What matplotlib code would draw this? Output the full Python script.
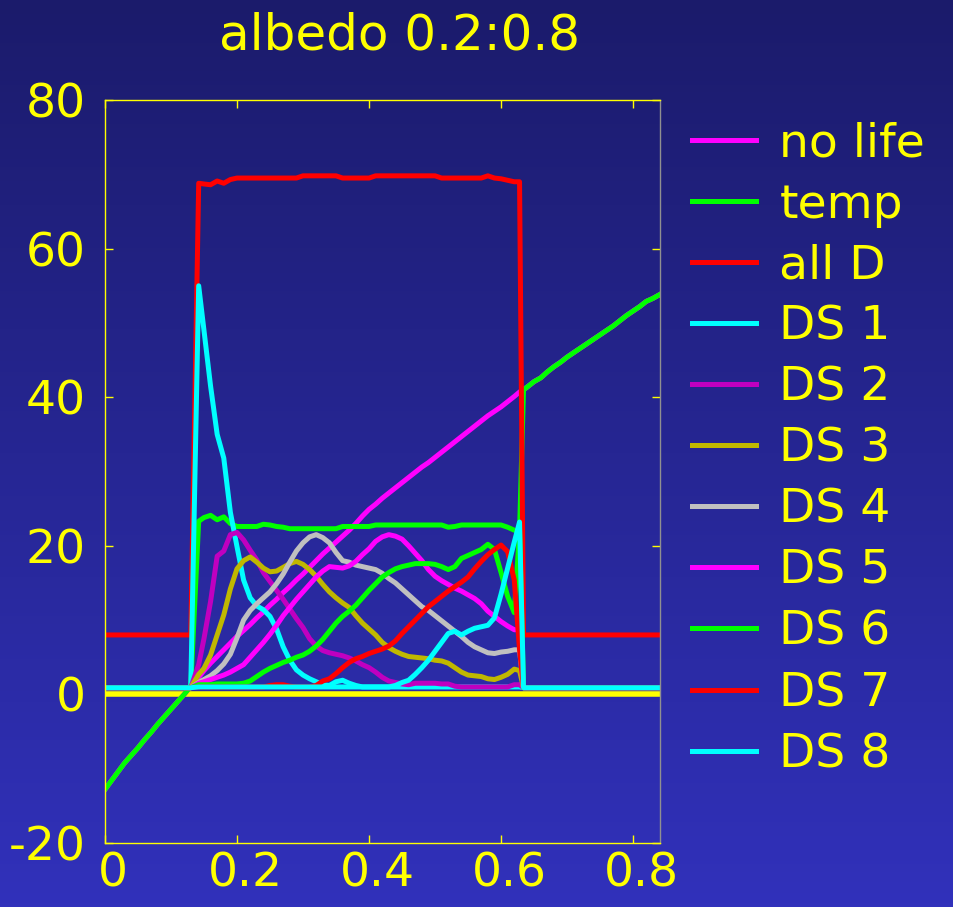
import matplotlib
matplotlib.use("Agg")
import matplotlib.pyplot as plt
import numpy as np
from matplotlib.colors import LinearSegmentedColormap
from matplotlib.transforms import ScaledTranslation

plt.rcParams['font.family'] = ['DejaVu Sans']

# albedo grid: dead zone left, life zone, dead zone right
albedo_left = np.round(np.arange(0.0, 0.135, 0.01), 3)
albedo_life = np.r_[0.142, np.round(np.arange(0.15, 0.625, 0.01), 3), 0.628]
albedo_right = np.r_[0.634, np.round(np.arange(0.64, 0.845, 0.01), 3)]
albedo = np.r_[albedo_left, albedo_life, albedo_right]

temp_left = [-12.8, -11.6, -10.4, -9.2, -8.2, -7.2, -6.1, -5.1, -4.0, -3.0,
             -2.0, -1.0, 0.0, 1.1]
temp_right = [41.0, 41.4, 42.1, 42.6, 43.4, 44.1, 44.7, 45.4, 46.0, 46.6, 47.2,
              47.8, 48.4, 49.0, 49.6, 50.3, 51.0, 51.6, 52.2, 52.9, 53.3, 53.8]

no_life_mid = [2.3, 3.2, 4.2, 5.1, 6.0, 6.9, 7.8, 8.6, 9.4, 10.3,
               11.1, 12.0, 12.8, 13.7, 14.5, 15.4, 16.2, 17.1, 18.0, 18.9,
               19.7, 20.5, 21.3, 22.1, 23.0, 24.0, 24.9, 25.6, 26.4, 27.1,
               27.8, 28.5, 29.2, 29.9, 30.6, 31.2, 31.9, 32.6, 33.3, 34.0,
               34.7, 35.4, 36.1, 36.8, 37.5, 38.1, 38.7, 39.4, 40.1, 40.7]
temp_mid = [23.3, 23.8, 24.1, 23.5, 23.9, 23.0, 22.6, 22.6, 22.6, 22.6,
            22.9, 22.8, 22.6, 22.5, 22.3, 22.3, 22.3, 22.3, 22.3, 22.3,
            22.3, 22.3, 22.6, 22.6, 22.6, 22.6, 22.6, 22.8, 22.8, 22.8,
            22.8, 22.8, 22.8, 22.8, 22.8, 22.8, 22.8, 22.8, 22.5, 22.6,
            22.8, 22.8, 22.8, 22.8, 22.8, 22.8, 22.8, 22.5, 22.1, 22.0]
all_d_mid = [68.8, 68.7, 68.6, 69.1, 68.8, 69.3, 69.5, 69.5, 69.5, 69.5,
             69.5, 69.5, 69.5, 69.5, 69.5, 69.5, 69.8, 69.8, 69.8, 69.8,
             69.8, 69.8, 69.5, 69.5, 69.5, 69.5, 69.5, 69.8, 69.8, 69.8,
             69.8, 69.8, 69.8, 69.8, 69.8, 69.8, 69.8, 69.5, 69.5, 69.5,
             69.5, 69.5, 69.5, 69.5, 69.8, 69.5, 69.4, 69.2, 69.0, 69.0]
ds1_mid = [55.0, 49.0, 41.5, 35.0, 31.8, 24.5, 19.9, 15.4, 13.0, 11.9,
           11.4, 10.5, 8.8, 6.4, 4.6, 3.3, 2.6, 2.1, 1.7, 1.3,
           1.2, 1.7, 1.9, 1.5, 1.2, 1.0, 1.0, 1.0, 1.0, 1.0,
           1.0, 1.0, 1.0, 1.0, 1.0, 1.0, 1.0, 1.0, 1.0, 1.0,
           1.0, 1.0, 1.0, 1.0, 1.0, 1.0, 1.0, 1.0, 1.0, 1.0]
ds2_mid = [4.0, 7.5, 12.5, 18.6, 19.3, 21.5, 21.8, 20.8, 19.4, 18.1,
           16.4, 15.2, 14.0, 12.8, 11.5, 10.2, 9.0, 7.5, 6.5, 5.9,
           5.6, 5.4, 5.2, 4.9, 4.5, 4.0, 3.6, 3.0, 2.3, 1.8,
           1.6, 1.4, 1.3, 1.5, 1.5, 1.5, 1.5, 1.4, 1.4, 1.1,
           1.0, 1.0, 1.0, 1.0, 1.0, 1.0, 1.0, 1.0, 1.3, 1.3]
ds3_mid = [2.7, 3.5, 5.3, 8.0, 10.7, 14.2, 16.9, 18.0, 18.5, 17.8,
           17.0, 16.5, 16.6, 17.1, 17.6, 17.9, 17.5, 16.8, 15.9, 14.8,
           13.8, 13.0, 12.3, 11.7, 10.6, 9.6, 8.8, 8.0, 7.0, 6.3,
           5.8, 5.4, 5.1, 5.0, 4.9, 4.8, 4.6, 4.5, 4.2, 3.6,
           3.0, 2.6, 2.5, 2.4, 2.1, 2.0, 2.3, 2.7, 3.4, 3.2]
ds4_mid = [1.6, 2.0, 2.5, 3.2, 4.1, 5.4, 7.6, 10.0, 11.3, 12.2,
           13.0, 13.8, 14.9, 16.2, 17.8, 19.3, 20.4, 21.2, 21.5, 21.1,
           20.4, 19.1, 18.0, 17.8, 17.4, 17.2, 17.0, 16.8, 16.3, 15.6,
           15.0, 14.2, 13.4, 12.6, 11.8, 11.3, 10.6, 9.9, 9.2, 8.5,
           7.8, 7.0, 6.4, 6.0, 5.6, 5.5, 5.7, 5.8, 6.0, 6.0]
ds5_mid = [1.5, 1.7, 2.0, 2.3, 2.6, 3.0, 3.5, 4.0, 5.0, 6.0,
           7.0, 8.1, 9.3, 10.6, 11.7, 12.8, 13.8, 14.8, 15.8, 16.6,
           17.2, 17.1, 17.0, 17.3, 17.9, 18.8, 19.6, 20.6, 21.2, 21.5,
           21.3, 20.9, 20.0, 19.0, 18.0, 16.8, 15.9, 15.3, 14.8, 14.3,
           13.9, 13.4, 12.9, 12.2, 11.2, 10.5, 9.8, 9.2, 8.7, 8.7]
ds6_mid = [1.3, 1.3, 1.3, 1.4, 1.4, 1.4, 1.4, 1.5, 1.8, 2.4,
           3.0, 3.5, 3.9, 4.3, 4.6, 5.0, 5.3, 5.8, 6.5, 7.4,
           8.5, 9.6, 10.5, 11.2, 12.0, 13.0, 14.0, 14.9, 15.8, 16.4,
           16.9, 17.2, 17.4, 17.6, 17.6, 17.6, 17.5, 17.2, 16.8, 17.2,
           18.3, 18.7, 19.1, 19.5, 20.2, 19.5, 16.4, 13.2, 11.0, 22.0]
ds7_mid = [1.0, 1.0, 1.0, 1.0, 1.0, 1.0, 1.0, 1.0, 1.0, 1.0,
           1.0, 1.2, 1.3, 1.3, 1.1, 1.0, 1.0, 1.0, 1.2, 1.8,
           2.1, 2.8, 3.6, 4.3, 4.8, 5.1, 5.5, 5.8, 6.1, 6.5,
           7.2, 8.2, 9.1, 10.0, 10.9, 11.8, 12.5, 13.2, 13.9, 14.5,
           15.1, 15.8, 16.9, 17.9, 18.8, 19.5, 20.1, 19.2, 15.4, 6.0]
ds8_mid = [1.0, 1.0, 1.0, 1.0, 1.0, 1.0, 1.0, 1.0, 1.0, 1.0,
           1.0, 1.0, 1.0, 1.0, 1.0, 1.0, 1.0, 1.0, 1.0, 1.0,
           1.0, 1.0, 1.0, 1.0, 1.0, 1.0, 1.0, 1.0, 1.0, 1.0,
           1.2, 1.6, 1.9, 2.7, 3.6, 4.6, 5.8, 7.0, 8.2, 8.5,
           8.0, 8.5, 8.9, 9.1, 9.3, 10.3, 13.5, 17.0, 20.5, 23.2]

n_left, n_right = len(albedo_left), len(albedo_right)
ds_base = 0.9
all_d_dead = 8.0

no_life = temp_left + no_life_mid + temp_right
temp = temp_left + temp_mid + temp_right
all_d = [all_d_dead] * n_left + all_d_mid + [all_d_dead] * n_right
ds = [[ds_base] * n_left + m + [ds_base] * n_right
      for m in (ds1_mid, ds2_mid, ds3_mid, ds4_mid, ds5_mid, ds6_mid, ds7_mid, ds8_mid)]

labels = ["no life", "temp", "all D"] + ["DS %d" % i for i in range(1, 9)]
colors = ["#ff00ff", "#00ff00", "#ff0000", "#00ffff", "#c000c0", "#c0b800",
          "#c0c0c0", "#ff00ff", "#00ff00", "#ff0000", "#00ffff"]
series = [no_life, temp, all_d] + ds

fig = plt.figure(figsize=(9.54, 9.07), dpi=100)

# background gradient
bg = fig.add_axes([0, 0, 1, 1], zorder=0)
cmap = LinearSegmentedColormap.from_list("bg", ["#1b1b6b", "#3131bb"])
bg.imshow(np.linspace(0, 1, 256).reshape(-1, 1), aspect="auto", cmap=cmap,
          extent=[0, 1, 0, 1])
bg.axis("off")

ax = fig.add_axes([0.110, 0.0706, 0.582, 0.8191], zorder=1)
ax.set_facecolor("none")

ax.axhline(0, color="#ffff00", lw=4.0, zorder=1)
lines = []
for y, c, lab in zip(series, colors, labels):
    ln, = ax.plot(albedo, y, color=c, lw=3.6, label=lab, zorder=2,
                  solid_joinstyle="round")
    lines.append(ln)

ax.set_xlim(0, 0.841)
ax.set_ylim(-20, 80)
ax.set_xticks([0, 0.2, 0.4, 0.6, 0.8])
ax.set_xticklabels(["0", "0.2", "0.4", "0.6", "0.8"])
ax.set_yticks([-20, 0, 20, 40, 60, 80])
ax.set_yticklabels(["-20", "0", "20", "40", "60", "80"])

for side in ["left", "bottom", "top"]:
    ax.spines[side].set_color("#ffff00")
    ax.spines[side].set_linewidth(1.0)
ax.spines["right"].set_color("#909090")
ax.spines["right"].set_linewidth(1.0)

ax.tick_params(direction="in", length=6, width=1, color="#ffff00",
               labelcolor="#ffff00", labelsize=34, top=True, right=True)
ax.tick_params(axis="y", pad=14)
ax.tick_params(axis="x", pad=6)
for lbl in ax.get_xticklabels():
    lbl.set_transform(lbl.get_transform() +
                      ScaledTranslation(0.08, 0, fig.dpi_scale_trans))

fig.text(400 / 954, 0.961, "albedo 0.2:0.8", color="#ffff00", fontsize=36,
         ha="center", va="center")

fig.legend(lines, labels, loc="upper left", bbox_to_anchor=(692 / 954, 0.866),
           frameon=False, fontsize=34, labelcolor="#ffff00", handlelength=1.35,
           handletextpad=0.5, labelspacing=0.34, borderpad=0, borderaxespad=0)

fig.savefig("out.png", dpi=100)
